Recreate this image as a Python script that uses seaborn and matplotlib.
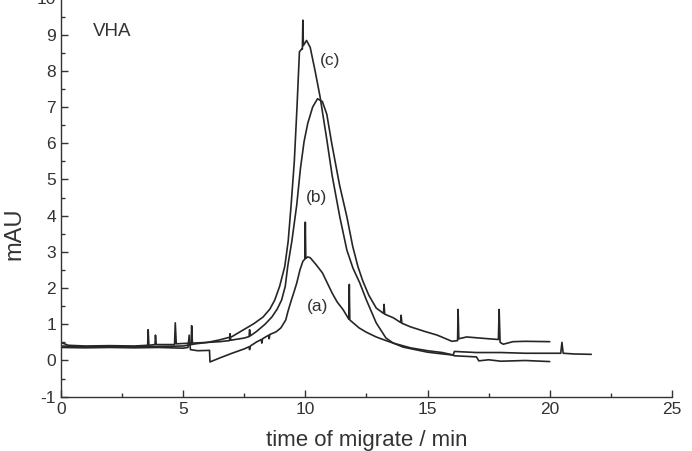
import matplotlib
matplotlib.use("Agg")
import matplotlib.pyplot as plt
import seaborn as sns
import pandas as pd
from matplotlib.ticker import MultipleLocator

# --- electropherogram traces (time / min, absorbance / mAU) ---
t_a = [0.0, 1.0, 2.0, 3.0, 4.0, 5.0, 5.2, 5.25, 5.3, 5.6, 6.08, 6.1, 6.5, 7.0, 7.5,
       7.7, 7.72, 7.75, 8.0, 8.2, 8.22, 8.25, 8.5, 8.52, 8.55, 8.8, 9.0, 9.2, 9.3,
       9.43, 9.55, 9.65, 9.78, 9.9, 9.98, 10.0, 10.02, 10.1, 10.2, 10.45, 10.7, 10.9,
       11.1, 11.3, 11.55, 11.78, 11.8, 11.82, 12.2, 12.5, 12.9, 13.3, 13.6, 14.3, 15.0,
       15.6, 16.0, 16.1, 17.0, 17.1, 17.5, 18.0, 19.0, 20.0]
y_a = [0.36, 0.35, 0.36, 0.35, 0.36, 0.34, 0.36, 0.70, 0.30, 0.27, 0.28, -0.04, 0.07, 0.20, 0.32,
       0.38, 0.30, 0.40, 0.51, 0.58, 0.48, 0.60, 0.70, 0.60, 0.72, 0.79, 0.90, 1.12, 1.38,
       1.67, 1.92, 2.14, 2.50, 2.74, 2.80, 3.82, 2.82, 2.86, 2.84, 2.64, 2.42, 2.14,
       1.86, 1.62, 1.40, 1.14, 2.10, 1.12, 0.90, 0.78, 0.65, 0.55, 0.48, 0.35, 0.27,
       0.22, 0.16, 0.13, 0.10, -0.01, 0.02, -0.02, 0.0, -0.03]

t_b = [0.0, 0.3, 1.0, 2.0, 3.0, 3.55, 3.57, 3.6, 3.85, 3.87, 3.9, 4.65, 4.68, 4.72, 5.0,
       5.33, 5.35, 5.38, 6.0, 6.5, 6.9, 6.92, 6.95, 7.5, 7.7, 7.72, 7.75, 8.0, 8.35,
       8.63, 8.85, 9.03, 9.18, 9.28, 9.45, 9.65, 9.8, 9.95, 10.1, 10.3, 10.5, 10.7,
       10.88, 11.08, 11.4, 11.7, 11.94, 12.15, 12.35, 12.6, 12.9, 13.2, 13.22, 13.25,
       13.6, 13.9, 13.92, 13.95, 14.3, 14.9, 15.4, 16.0, 16.23, 16.25, 16.28, 16.6,
       17.5, 17.9, 17.93, 17.97, 18.1, 18.5, 19.0, 20.0]
y_b = [0.50, 0.42, 0.40, 0.41, 0.40, 0.42, 0.85, 0.42, 0.44, 0.70, 0.44, 0.44, 1.04, 0.46, 0.47,
       0.48, 0.96, 0.48, 0.50, 0.52, 0.55, 0.74, 0.56, 0.62, 0.66, 0.85, 0.68, 0.80, 1.00,
       1.20, 1.42, 1.67, 2.05, 2.60, 3.30, 4.30, 5.30, 6.05, 6.55, 7.00, 7.23, 7.15,
       6.80, 6.00, 4.85, 3.97, 3.15, 2.60, 2.20, 1.80, 1.45, 1.30, 1.55, 1.28,
       1.18, 1.05, 1.25, 1.03, 0.93, 0.80, 0.70, 0.53, 0.55, 1.41, 0.60, 0.65,
       0.60, 0.58, 1.41, 0.50, 0.45, 0.52, 0.53, 0.52]

t_c = [0.0, 1.0, 2.0, 3.0, 4.0, 5.0, 5.5, 6.0, 6.5, 7.0, 7.45, 7.9, 8.27, 8.55, 8.75,
       8.95, 9.16, 9.3, 9.42, 9.55, 9.66, 9.76, 9.85, 9.88, 9.9, 9.92, 10.05, 10.2,
       10.4, 10.6, 10.88, 11.1, 11.41, 11.7, 11.95, 12.23, 12.5, 12.9, 13.3, 13.6, 14.0,
       14.5, 15.0, 15.5, 16.05, 16.1, 17.0, 18.0, 19.0, 20.45, 20.5, 20.55, 21.0, 21.7]
y_c = [0.40, 0.38, 0.39, 0.38, 0.39, 0.40, 0.46, 0.50, 0.57, 0.66, 0.84, 1.02, 1.20, 1.42, 1.67,
       2.05, 2.60, 3.30, 4.30, 5.50, 7.00, 8.53, 8.60, 8.60, 9.40, 8.70, 8.84, 8.65,
       8.00, 7.30, 6.10, 5.10, 3.97, 3.05, 2.55, 2.14, 1.67, 1.04, 0.62, 0.48, 0.37,
       0.30, 0.23, 0.19, 0.15, 0.25, 0.22, 0.22, 0.20, 0.20, 0.50, 0.20, 0.18, 0.17]

curves = {"a": (t_a, y_a), "b": (t_b, y_b), "c": (t_c, y_c)}
label_pos = {"(a)": (10.5, 1.5), "(b)": (10.47, 4.5), "(c)": (11.0, 8.3)}

sns.set_style("ticks")
plt.rcParams["font.family"] = ["Liberation Sans", "DejaVu Sans"]
plt.rcParams["axes.unicode_minus"] = False

fig = plt.figure(figsize=(6.92, 4.51), dpi=100)
ax = fig.add_axes([0.088, 0.1204, 0.883, 0.883])

for name, (t, y) in curves.items():
    df = pd.DataFrame({"t": t, "y": y})
    sns.lineplot(data=df, x="t", y="y", ax=ax, sort=False, estimator=None,
                 color="#262626", linewidth=1.2)

for txt, (x, y) in label_pos.items():
    ax.text(x, y, txt, ha="center", va="center", fontsize=12.5, color="#333333")
ax.text(1.3, 8.95, "VHA", ha="left", va="baseline", fontsize=13.5, color="#333333")

ax.set_xlim(0, 25)
ax.set_ylim(-1, 10)
ax.xaxis.set_major_locator(MultipleLocator(5))
ax.xaxis.set_minor_locator(MultipleLocator(2.5))
ax.yaxis.set_major_locator(MultipleLocator(1))
ax.yaxis.set_minor_locator(MultipleLocator(0.5))
ax.tick_params(which="major", direction="in", length=5, width=1.0,
               labelsize=12.5, labelcolor="#333333", color="#333333")
ax.tick_params(which="minor", direction="in", length=3, width=1.0, color="#333333")
ax.tick_params(axis="x", which="both", top=False)
ax.tick_params(axis="y", which="both", right=False)

for s in ["left", "bottom"]:
    ax.spines[s].set_linewidth(1.0)
    ax.spines[s].set_color("#333333")
sns.despine(ax=ax)

ax.set_xlabel("time of migrate / min", fontsize=16, color="#333333", labelpad=10)
ax.set_ylabel("mAU", fontsize=17, color="#333333")
ax.yaxis.set_label_coords(-0.058, 0.41)

fig.savefig("out.png", dpi=100)
